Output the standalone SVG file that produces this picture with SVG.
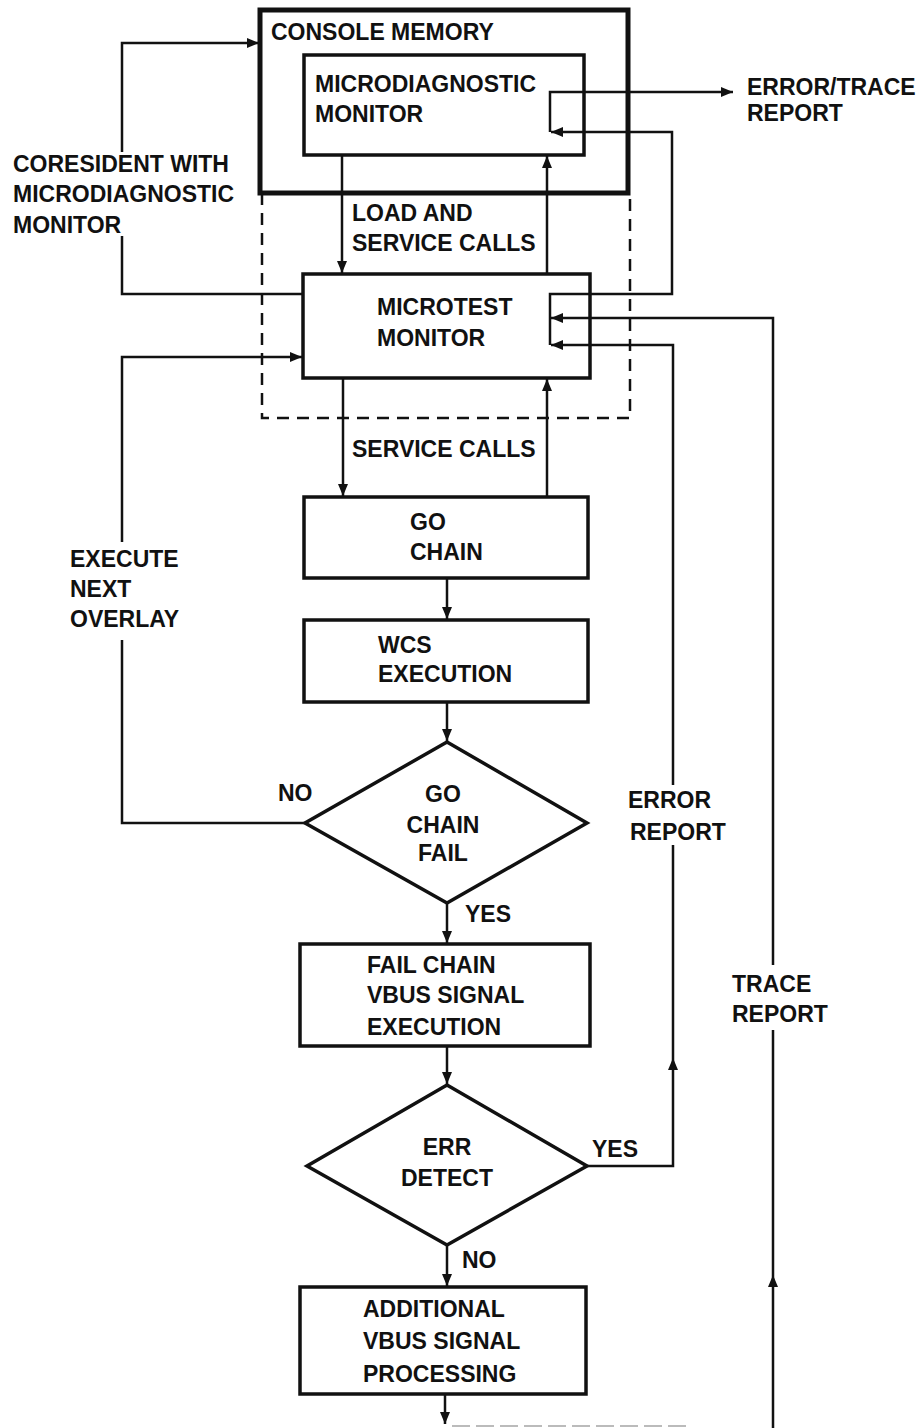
<svg xmlns="http://www.w3.org/2000/svg" width="920" height="1428" viewBox="0 0 920 1428">
<style>
.bx{fill:#fff;stroke:#111;stroke-width:3.5}
.outer{fill:none;stroke:#111;stroke-width:5}
.dash{fill:none;stroke:#111;stroke-width:2.5;stroke-dasharray:12 8}
.ln{fill:none;stroke:#111;stroke-width:2.5}
.ar{fill:none;stroke:#111;stroke-width:2.5;marker-end:url(#ah)}
.hd{fill:#111}
text{font-family:"Liberation Sans",Arial,sans-serif;font-weight:bold;font-size:23px;fill:#111}
.c{text-anchor:middle}
</style>
<defs>
<marker id="ah" markerUnits="userSpaceOnUse" markerWidth="14" markerHeight="12" refX="12" refY="5" orient="auto">
<path d="M0,0 L12,5 L0,10 Z" fill="#111"/>
</marker>
</defs>

<g id="console-memory">
<rect class="outer" x="260" y="10" width="368" height="183"/>
<text x="271" y="40">CONSOLE MEMORY</text>
</g>
<path id="coresident-region" class="dash" d="M262,193 V418 H630 V193"/>

<g id="microdiagnostic-monitor">
<rect class="bx" x="304" y="55" width="280" height="100"/>
<text x="315" y="92">MICRODIAGNOSTIC</text>
<text x="315" y="122">MONITOR</text>
</g>

<g id="microtest-monitor">
<rect class="bx" x="303" y="274" width="287" height="104"/>
<text x="377" y="315">MICROTEST</text>
<text x="377" y="346">MONITOR</text>
</g>

<g id="go-chain">
<rect class="bx" x="304" y="497" width="284" height="81"/>
<text x="410" y="530">GO</text>
<text x="410" y="560">CHAIN</text>
</g>

<g id="wcs-execution">
<rect class="bx" x="304" y="620" width="284" height="82"/>
<text x="378" y="653">WCS</text>
<text x="378" y="682">EXECUTION</text>
</g>

<g id="go-chain-fail">
<polygon class="bx" points="447,742 587,823 447,903 305,823"/>
<text class="c" x="443" y="802">GO</text>
<text class="c" x="443" y="833">CHAIN</text>
<text class="c" x="443" y="861">FAIL</text>
</g>

<g id="fail-chain">
<rect class="bx" x="300" y="944" width="290" height="102"/>
<text x="367" y="973">FAIL CHAIN</text>
<text x="367" y="1003">VBUS SIGNAL</text>
<text x="367" y="1035">EXECUTION</text>
</g>

<g id="err-detect">
<polygon class="bx" points="447,1085 587,1166 447,1245 307,1166"/>
<text class="c" x="447" y="1155">ERR</text>
<text class="c" x="447" y="1186">DETECT</text>
</g>

<g id="additional-processing">
<rect class="bx" x="300" y="1287" width="286" height="107"/>
<text x="363" y="1317">ADDITIONAL</text>
<text x="363" y="1349">VBUS SIGNAL</text>
<text x="363" y="1382">PROCESSING</text>
</g>

<g id="connectors">
<!-- coresident with microdiagnostic monitor -->
<path class="ln" d="M303,294 H122 V236"/>
<path class="ar" d="M122,152 V43 H259"/>
<!-- load and service calls -->
<path class="ar" d="M342,155 V273"/>
<path class="ar" d="M547,274 V156"/>
<!-- service calls -->
<path class="ar" d="M343,378 V496"/>
<path class="ar" d="M547,497 V379"/>
<!-- flow -->
<path class="ar" d="M447,578 V619"/>
<path class="ar" d="M447,702 V741"/>
<path class="ar" d="M447,903 V943"/>
<path class="ar" d="M447,1046 V1084"/>
<path class="ar" d="M447,1245 V1286"/>
<path class="ar" d="M445,1394 V1424"/>
<path d="M452,1426 H690" fill="none" stroke="#bbb" stroke-width="2" stroke-dasharray="18 6"/>
<!-- execute next overlay -->
<path class="ln" d="M305,823 H122 V640"/>
<path class="ar" d="M122,542 V357 H302"/>
<!-- microtest to microdiagnostic -->
<path class="ar" d="M550,345 V294 H672 V132 H551"/>
<path class="ar" d="M550,132 V92 H733"/>
<!-- error report -->
<path class="ln" d="M587,1166 H673 V845"/>
<path class="ar" d="M673,785 V345 H551"/>
<polygon class="hd" points="673,1058 678,1070 668,1070"/>
<!-- trace report -->
<path class="ln" d="M773,1428 V1030"/>
<path class="ar" d="M773,965 V318 H551"/>
<polygon class="hd" points="773,1275 778,1287 768,1287"/>
</g>

<g id="labels">
<text x="747" y="95">ERROR/TRACE</text>
<text x="747" y="121">REPORT</text>
<text x="13" y="172">CORESIDENT WITH</text>
<text x="13" y="202">MICRODIAGNOSTIC</text>
<text x="13" y="233">MONITOR</text>
<text x="352" y="221">LOAD AND</text>
<text x="352" y="251">SERVICE CALLS</text>
<text x="352" y="457">SERVICE CALLS</text>
<text x="70" y="567">EXECUTE</text>
<text x="70" y="597">NEXT</text>
<text x="70" y="627">OVERLAY</text>
<text x="278" y="801">NO</text>
<text x="628" y="808">ERROR</text>
<text x="630" y="840">REPORT</text>
<text x="465" y="922">YES</text>
<text x="732" y="992">TRACE</text>
<text x="732" y="1022">REPORT</text>
<text x="592" y="1157">YES</text>
<text x="462" y="1268">NO</text>
</g>
</svg>
